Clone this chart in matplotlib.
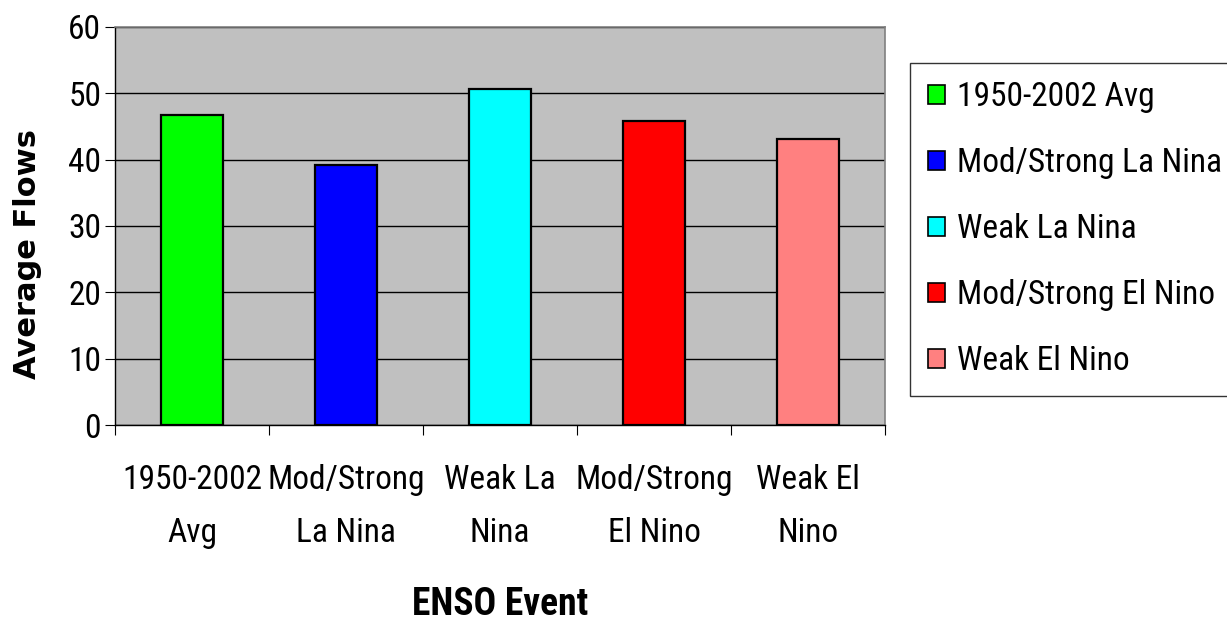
import matplotlib
matplotlib.use("Agg")
import matplotlib.pyplot as plt
from matplotlib.patches import Patch

# values
events = ["1950-2002 Avg", "Mod/Strong La Nina", "Weak La Nina", "Mod/Strong El Nino", "Weak El Nino"]
tick_labels = ["1950-2002\nAvg", "Mod/Strong\nLa Nina", "Weak La\nNina", "Mod/Strong\nEl Nino", "Weak El\nNino"]
flows = [46.7, 39.2, 50.6, 45.8, 43.1]
colors = ["#00ff00", "#0000ff", "#00ffff", "#ff0000", "#ff8080"]

plt.rcParams['font.family'] = ['Roboto Condensed', 'DejaVu Sans']
fs = 24

fig = plt.figure(figsize=(12.27, 6.22), dpi=100)
ax = fig.add_axes([115 / 1227, 1 - 425 / 622, 770 / 1227, 398 / 622])
ax.set_facecolor("#c0c0c0")

x = list(range(len(flows)))
ax.bar(x, flows, width=0.4, color=colors, edgecolor="black", linewidth=1.6, zorder=3)

ax.set_xlim(-0.5, 4.5)
ax.set_ylim(0, 60)
ax.set_yticks(range(0, 61, 10))
ax.yaxis.grid(True, color="black", linewidth=1.0, zorder=1)
ax.tick_params(axis="y", labelsize=fs, length=7, width=0.8, pad=3)

# ticks between categories, labels centered under bars
ax.set_xticks([i - 0.5 for i in range(len(flows) + 1)])
ax.set_xticklabels([])
ax.tick_params(axis="x", which="major", length=7, width=0.8)
ax.set_xticks(x, minor=True)
ax.set_xticklabels(tick_labels, minor=True, fontsize=fs, linespacing=1.85)
ax.tick_params(axis="x", which="minor", length=0, pad=28)

for s in ["top", "right"]:
    ax.spines[s].set_color("#808080")
    ax.spines[s].set_linewidth(1.2)
for s in ["left", "bottom"]:
    ax.spines[s].set_color("black")
    ax.spines[s].set_linewidth(1.0)

ax.set_ylabel("Average Flows", family="DejaVu Sans", fontweight="bold", fontsize=22, va="center")
ax.yaxis.set_label_coords(-0.113, 0.43)
ax.set_xlabel("ENSO Event", fontweight="bold", fontsize=27, va="center")
ax.xaxis.set_label_coords(0.5, -0.452)

handles = [Patch(facecolor=c, edgecolor="black", linewidth=1.2) for c in colors]
leg = fig.legend(handles, events, loc="upper left", bbox_to_anchor=(910 / 1227, 1 - 63 / 622),
                 fontsize=fs, frameon=True, fancybox=False, shadow=False,
                 handlelength=0.5, handleheight=0.5, handletextpad=0.35,
                 labelspacing=1.02, borderpad=0.55, borderaxespad=0)
leg.get_frame().set_edgecolor("black")
leg.get_frame().set_linewidth(1.0)

fig.savefig("out.png", dpi=100)
